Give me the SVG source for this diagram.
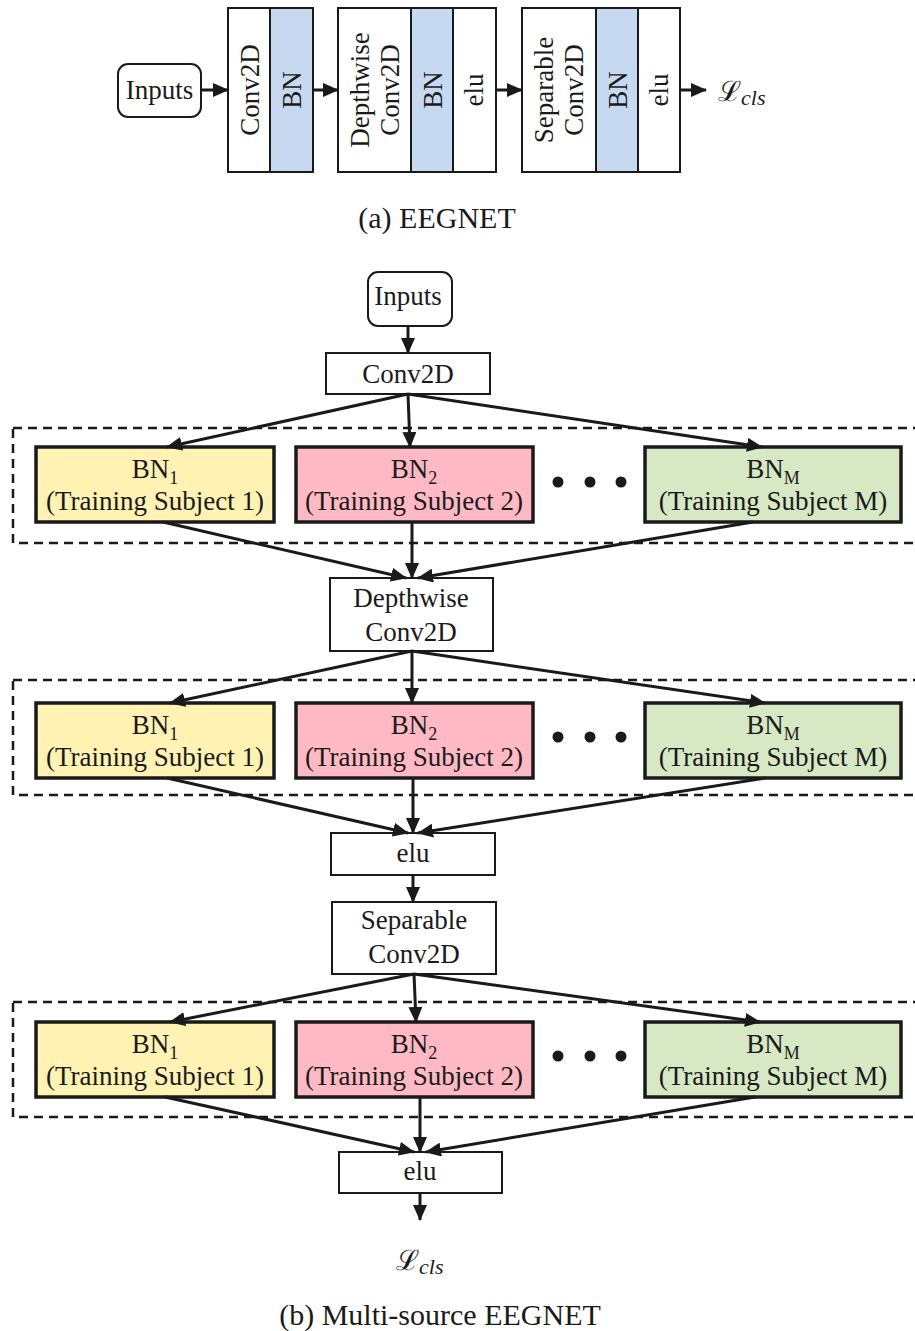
<svg xmlns="http://www.w3.org/2000/svg" width="915" height="1331" viewBox="0 0 915 1331">
<defs>
<marker id="ah" markerUnits="userSpaceOnUse" markerWidth="16" markerHeight="14" refX="15" refY="7" orient="auto">
<path d="M0,0 L16,7 L0,14 Z" fill="#1a1a1a"/>
</marker>
<style>
text{font-family:"Liberation Serif","Times New Roman",serif;fill:#1a1a1a}
.t{font-size:27px;text-anchor:middle}
.cap{font-size:30px;text-anchor:middle}
.box{fill:#fff;stroke:#1a1a1a;stroke-width:2}
.blue{fill:#c6d9f1;stroke:#1a1a1a;stroke-width:2}
.bn{stroke:#1a1a1a;stroke-width:3.5}
.y{fill:#fff2b3}
.p{fill:#ffb9c4}
.g{fill:#d6e8c4}
.dash{fill:none;stroke:#1a1a1a;stroke-width:2.5;stroke-dasharray:9,6}
.c{stroke:#1a1a1a;stroke-width:3;fill:none;marker-end:url(#ah)}
.dot{fill:#1a1a1a}
</style>
</defs>

<!-- (a) EEGNET -->
<g id="a-inputs">
<rect x="118" y="64" width="83" height="53" rx="10" class="box"/>
<text x="159.5" y="99" class="t" font-size="27">Inputs</text>
</g>
<g id="a-block1">
<rect x="228" y="8" width="42" height="164" class="box"/>
<rect x="270" y="8" width="43" height="164" class="blue"/>
<text class="t" transform="translate(259,90) rotate(-90)">Conv2D</text>
<text class="t" transform="translate(301,90) rotate(-90)">BN</text>
</g>
<g id="a-block2">
<rect x="338" y="8" width="73" height="164" class="box"/>
<rect x="411" y="8" width="42" height="164" class="blue"/>
<rect x="453" y="8" width="43" height="164" class="box"/>
<text class="t" transform="translate(369,90) rotate(-90)">Depthwise</text>
<text class="t" transform="translate(399,90) rotate(-90)">Conv2D</text>
<text class="t" transform="translate(442,90) rotate(-90)">BN</text>
<text class="t" transform="translate(483,90) rotate(-90)">elu</text>
</g>
<g id="a-block3">
<rect x="522" y="8" width="74" height="164" class="box"/>
<rect x="596" y="8" width="42" height="164" class="blue"/>
<rect x="638" y="8" width="42" height="164" class="box"/>
<text class="t" transform="translate(553,90) rotate(-90)">Separable</text>
<text class="t" transform="translate(583,90) rotate(-90)">Conv2D</text>
<text class="t" transform="translate(627,90) rotate(-90)">BN</text>
<text class="t" transform="translate(668,90) rotate(-90)">elu</text>
</g>
<g id="a-loss">
<text x="718" y="101" font-size="28">ℒ<tspan font-style="italic" font-size="22" dy="4">cls</tspan></text>
</g>
<g id="a-caption">
<text x="437" y="228" class="cap">(a) EEGNET</text>
</g>
<g id="a-connectors">
<line x1="201" y1="90" x2="228" y2="90" class="c"/>
<line x1="313" y1="90" x2="338" y2="90" class="c"/>
<line x1="496" y1="90" x2="522" y2="90" class="c"/>
<line x1="680" y1="90" x2="706" y2="90" class="c"/>
</g>

<!-- (b) Multi-source EEGNET -->
<g id="dashed-groups">
<rect x="13" y="428" width="910" height="115" class="dash"/>
<rect x="13" y="680" width="910" height="115" class="dash"/>
<rect x="13" y="1002" width="910" height="115" class="dash"/>
</g>

<g id="b-inputs">
<rect x="368" y="272" width="84" height="54" rx="10" class="box"/>
<text x="408" y="305" class="t">Inputs</text>
</g>
<g id="b-conv2d">
<rect x="326" y="353" width="164" height="41" class="box"/>
<text x="408" y="383" class="t">Conv2D</text>
</g>

<g id="row1-bn1">
<rect x="36" y="447" width="238" height="75" class="bn y"/>
<text x="155" y="478" class="t">BN<tspan font-size="18" dy="6">1</tspan></text>
<text x="155" y="510" class="t">(Training Subject 1)</text>
</g>
<g id="row1-bn2">
<rect x="296" y="447" width="237" height="75" class="bn p"/>
<text x="414" y="478" class="t">BN<tspan font-size="18" dy="6">2</tspan></text>
<text x="414" y="510" class="t">(Training Subject 2)</text>
</g>
<g id="row1-dots">
<circle cx="558" cy="482" r="5.5" class="dot"/><circle cx="590" cy="482" r="5.5" class="dot"/><circle cx="621" cy="482" r="5.5" class="dot"/>
</g>
<g id="row1-bnm">
<rect x="645" y="447" width="256" height="75" class="bn g"/>
<text x="773" y="478" class="t">BN<tspan font-size="18" dy="6">M</tspan></text>
<text x="773" y="510" class="t">(Training Subject M)</text>
</g>

<g id="b-depthwise">
<rect x="330" y="578" width="163" height="73" class="box"/>
<text x="411" y="607" class="t">Depthwise</text>
<text x="411" y="641" class="t">Conv2D</text>
</g>

<g id="row2-bn1">
<rect x="36" y="703" width="238" height="75" class="bn y"/>
<text x="155" y="734" class="t">BN<tspan font-size="18" dy="6">1</tspan></text>
<text x="155" y="766" class="t">(Training Subject 1)</text>
</g>
<g id="row2-bn2">
<rect x="296" y="703" width="237" height="75" class="bn p"/>
<text x="414" y="734" class="t">BN<tspan font-size="18" dy="6">2</tspan></text>
<text x="414" y="766" class="t">(Training Subject 2)</text>
</g>
<g id="row2-dots">
<circle cx="558" cy="737" r="5.5" class="dot"/><circle cx="590" cy="737" r="5.5" class="dot"/><circle cx="621" cy="737" r="5.5" class="dot"/>
</g>
<g id="row2-bnm">
<rect x="645" y="703" width="256" height="75" class="bn g"/>
<text x="773" y="734" class="t">BN<tspan font-size="18" dy="6">M</tspan></text>
<text x="773" y="766" class="t">(Training Subject M)</text>
</g>

<g id="b-elu1">
<rect x="331" y="833" width="164" height="42" class="box"/>
<text x="413" y="862" class="t">elu</text>
</g>
<g id="b-separable">
<rect x="332" y="902" width="164" height="72" class="box"/>
<text x="414" y="929" class="t">Separable</text>
<text x="414" y="963" class="t">Conv2D</text>
</g>

<g id="row3-bn1">
<rect x="36" y="1022" width="238" height="75" class="bn y"/>
<text x="155" y="1053" class="t">BN<tspan font-size="18" dy="6">1</tspan></text>
<text x="155" y="1085" class="t">(Training Subject 1)</text>
</g>
<g id="row3-bn2">
<rect x="296" y="1022" width="237" height="75" class="bn p"/>
<text x="414" y="1053" class="t">BN<tspan font-size="18" dy="6">2</tspan></text>
<text x="414" y="1085" class="t">(Training Subject 2)</text>
</g>
<g id="row3-dots">
<circle cx="558" cy="1056" r="5.5" class="dot"/><circle cx="590" cy="1056" r="5.5" class="dot"/><circle cx="621" cy="1056" r="5.5" class="dot"/>
</g>
<g id="row3-bnm">
<rect x="645" y="1022" width="256" height="75" class="bn g"/>
<text x="773" y="1053" class="t">BN<tspan font-size="18" dy="6">M</tspan></text>
<text x="773" y="1085" class="t">(Training Subject M)</text>
</g>

<g id="b-elu2">
<rect x="339" y="1152" width="163" height="41" class="box"/>
<text x="420" y="1180" class="t">elu</text>
</g>
<g id="b-loss">
<text x="396" y="1270" font-size="28">ℒ<tspan font-style="italic" font-size="22" dy="4">cls</tspan></text>
</g>
<g id="b-caption">
<text x="440" y="1325" class="cap">(b) Multi-source EEGNET</text>
</g>

<g id="b-connectors">
<line x1="408" y1="326" x2="408" y2="353" class="c"/>
<line x1="408" y1="394" x2="167" y2="447" class="c"/>
<line x1="408" y1="394" x2="410" y2="447" class="c"/>
<line x1="408" y1="394" x2="762" y2="447" class="c"/>
<line x1="163" y1="522" x2="406" y2="578" class="c"/>
<line x1="412" y1="522" x2="412" y2="578" class="c"/>
<line x1="753" y1="522" x2="418" y2="578" class="c"/>

<line x1="412" y1="651" x2="170" y2="703" class="c"/>
<line x1="412" y1="651" x2="412" y2="703" class="c"/>
<line x1="412" y1="651" x2="765" y2="703" class="c"/>
<line x1="167" y1="778" x2="408" y2="833" class="c"/>
<line x1="413" y1="778" x2="413" y2="833" class="c"/>
<line x1="765" y1="778" x2="418" y2="833" class="c"/>

<line x1="413" y1="875" x2="413" y2="902" class="c"/>

<line x1="414" y1="974" x2="170" y2="1022" class="c"/>
<line x1="414" y1="974" x2="416" y2="1022" class="c"/>
<line x1="414" y1="974" x2="760" y2="1022" class="c"/>
<line x1="165" y1="1097" x2="414" y2="1152" class="c"/>
<line x1="420" y1="1097" x2="420" y2="1152" class="c"/>
<line x1="755" y1="1097" x2="426" y2="1152" class="c"/>

<line x1="420" y1="1193" x2="420" y2="1220" class="c"/>
</g>
</svg>
